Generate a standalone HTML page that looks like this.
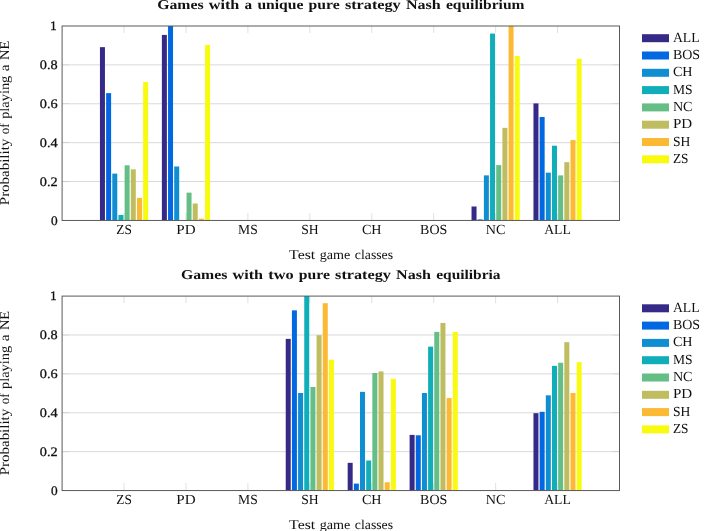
<!DOCTYPE html>
<html><head><meta charset="utf-8"><style>
html,body{margin:0;padding:0;background:#fff;}
body{width:709px;height:531px;overflow:hidden;}
svg{display:block;will-change:transform;text-rendering:geometricPrecision;font-family:"Liberation Serif", serif;fill:#111;}
</style></head><body>
<svg width="709" height="531" viewBox="0 0 709 531">
<text x="157.20" y="8.70" font-size="13.5" textLength="46.40" lengthAdjust="spacingAndGlyphs" font-weight="bold">Games</text><text x="208.83" y="8.70" font-size="13.5" textLength="30.50" lengthAdjust="spacingAndGlyphs" font-weight="bold">with</text><text x="244.56" y="8.70" font-size="13.5" textLength="7.62" lengthAdjust="spacingAndGlyphs" font-weight="bold">a</text><text x="257.41" y="8.70" font-size="13.5" textLength="45.96" lengthAdjust="spacingAndGlyphs" font-weight="bold">unique</text><text x="308.60" y="8.70" font-size="13.5" textLength="31.07" lengthAdjust="spacingAndGlyphs" font-weight="bold">pure</text><text x="344.90" y="8.70" font-size="13.5" textLength="55.78" lengthAdjust="spacingAndGlyphs" font-weight="bold">strategy</text><text x="405.91" y="8.70" font-size="13.5" textLength="34.80" lengthAdjust="spacingAndGlyphs" font-weight="bold">Nash</text><text x="445.94" y="8.70" font-size="13.5" textLength="78.56" lengthAdjust="spacingAndGlyphs" font-weight="bold">equilibrium</text>
<line x1="62.10" y1="181.56" x2="619.50" y2="181.56" stroke="#d9d9d9" stroke-width="1"/>
<line x1="62.10" y1="181.56" x2="69.10" y2="181.56" stroke="#000" stroke-opacity="0.07" stroke-width="1"/>
<line x1="612.50" y1="181.56" x2="619.50" y2="181.56" stroke="#000" stroke-opacity="0.07" stroke-width="1"/>
<line x1="62.10" y1="142.67" x2="619.50" y2="142.67" stroke="#d9d9d9" stroke-width="1"/>
<line x1="62.10" y1="142.67" x2="69.10" y2="142.67" stroke="#000" stroke-opacity="0.07" stroke-width="1"/>
<line x1="612.50" y1="142.67" x2="619.50" y2="142.67" stroke="#000" stroke-opacity="0.07" stroke-width="1"/>
<line x1="62.10" y1="103.78" x2="619.50" y2="103.78" stroke="#d9d9d9" stroke-width="1"/>
<line x1="62.10" y1="103.78" x2="69.10" y2="103.78" stroke="#000" stroke-opacity="0.07" stroke-width="1"/>
<line x1="612.50" y1="103.78" x2="619.50" y2="103.78" stroke="#000" stroke-opacity="0.07" stroke-width="1"/>
<line x1="62.10" y1="64.89" x2="619.50" y2="64.89" stroke="#d9d9d9" stroke-width="1"/>
<line x1="62.10" y1="64.89" x2="69.10" y2="64.89" stroke="#000" stroke-opacity="0.07" stroke-width="1"/>
<line x1="612.50" y1="64.89" x2="619.50" y2="64.89" stroke="#000" stroke-opacity="0.07" stroke-width="1"/>
<line x1="124.03" y1="220.45" x2="124.03" y2="212.95" stroke="#e0e0e0" stroke-width="1"/>
<line x1="124.03" y1="26.00" x2="124.03" y2="33.00" stroke="#e0e0e0" stroke-width="1"/>
<line x1="185.97" y1="220.45" x2="185.97" y2="212.95" stroke="#e0e0e0" stroke-width="1"/>
<line x1="185.97" y1="26.00" x2="185.97" y2="33.00" stroke="#e0e0e0" stroke-width="1"/>
<line x1="247.90" y1="220.45" x2="247.90" y2="212.95" stroke="#e0e0e0" stroke-width="1"/>
<line x1="247.90" y1="26.00" x2="247.90" y2="33.00" stroke="#e0e0e0" stroke-width="1"/>
<line x1="309.83" y1="220.45" x2="309.83" y2="212.95" stroke="#e0e0e0" stroke-width="1"/>
<line x1="309.83" y1="26.00" x2="309.83" y2="33.00" stroke="#e0e0e0" stroke-width="1"/>
<line x1="371.77" y1="220.45" x2="371.77" y2="212.95" stroke="#e0e0e0" stroke-width="1"/>
<line x1="371.77" y1="26.00" x2="371.77" y2="33.00" stroke="#e0e0e0" stroke-width="1"/>
<line x1="433.70" y1="220.45" x2="433.70" y2="212.95" stroke="#e0e0e0" stroke-width="1"/>
<line x1="433.70" y1="26.00" x2="433.70" y2="33.00" stroke="#e0e0e0" stroke-width="1"/>
<line x1="495.63" y1="220.45" x2="495.63" y2="212.95" stroke="#e0e0e0" stroke-width="1"/>
<line x1="495.63" y1="26.00" x2="495.63" y2="33.00" stroke="#e0e0e0" stroke-width="1"/>
<line x1="557.57" y1="220.45" x2="557.57" y2="212.95" stroke="#e0e0e0" stroke-width="1"/>
<line x1="557.57" y1="26.00" x2="557.57" y2="33.00" stroke="#e0e0e0" stroke-width="1"/>
<rect x="99.94" y="47.15" width="5.0" height="173.30" fill="#352a87"/>
<rect x="106.11" y="93.12" width="5.0" height="127.33" fill="#0268e1"/>
<rect x="112.28" y="173.63" width="5.0" height="46.82" fill="#108ed2"/>
<rect x="118.45" y="214.96" width="5.0" height="5.49" fill="#0faeb9"/>
<rect x="124.62" y="165.29" width="5.0" height="55.16" fill="#65be86"/>
<rect x="130.79" y="169.37" width="5.0" height="51.08" fill="#c0bc60"/>
<rect x="136.96" y="197.88" width="5.0" height="22.57" fill="#fbb934"/>
<rect x="143.13" y="82.07" width="5.0" height="138.38" fill="#f9fb0e"/>
<rect x="161.87" y="34.92" width="5.0" height="185.53" fill="#352a87"/>
<rect x="168.04" y="26.00" width="5.0" height="194.45" fill="#0268e1"/>
<rect x="174.21" y="166.46" width="5.0" height="53.99" fill="#108ed2"/>
<rect x="186.55" y="192.65" width="5.0" height="27.80" fill="#65be86"/>
<rect x="192.72" y="203.51" width="5.0" height="16.94" fill="#c0bc60"/>
<rect x="198.89" y="218.64" width="5.0" height="1.81" fill="#fbb934"/>
<rect x="205.06" y="45.01" width="5.0" height="175.44" fill="#f9fb0e"/>
<rect x="471.54" y="206.50" width="5.0" height="13.95" fill="#352a87"/>
<rect x="477.71" y="219.42" width="5.0" height="1.03" fill="#0268e1"/>
<rect x="483.88" y="175.38" width="5.0" height="45.07" fill="#108ed2"/>
<rect x="490.05" y="33.57" width="5.0" height="186.88" fill="#0faeb9"/>
<rect x="496.22" y="165.10" width="5.0" height="55.35" fill="#65be86"/>
<rect x="502.39" y="127.85" width="5.0" height="92.60" fill="#c0bc60"/>
<rect x="508.56" y="26.00" width="5.0" height="194.45" fill="#fbb934"/>
<rect x="514.73" y="56.07" width="5.0" height="164.38" fill="#f9fb0e"/>
<rect x="533.47" y="103.41" width="5.0" height="117.04" fill="#352a87"/>
<rect x="539.64" y="116.99" width="5.0" height="103.46" fill="#0268e1"/>
<rect x="545.81" y="172.66" width="5.0" height="47.79" fill="#108ed2"/>
<rect x="551.98" y="145.70" width="5.0" height="74.75" fill="#0faeb9"/>
<rect x="558.15" y="175.38" width="5.0" height="45.07" fill="#65be86"/>
<rect x="564.32" y="162.19" width="5.0" height="58.26" fill="#c0bc60"/>
<rect x="570.49" y="140.07" width="5.0" height="80.38" fill="#fbb934"/>
<rect x="576.66" y="58.79" width="5.0" height="161.66" fill="#f9fb0e"/>
<rect x="62.10" y="26.00" width="557.40" height="194.45" fill="none" stroke="#5a5a5a" stroke-width="1"/>
<text x="50.93" y="224.75" font-size="13" textLength="6.67" lengthAdjust="spacingAndGlyphs" stroke="#111" stroke-width="0.3">0</text>
<text x="39.76" y="185.86" font-size="13" textLength="17.84" lengthAdjust="spacingAndGlyphs" stroke="#111" stroke-width="0.3">0.2</text>
<text x="39.76" y="146.97" font-size="13" textLength="17.84" lengthAdjust="spacingAndGlyphs" stroke="#111" stroke-width="0.3">0.4</text>
<text x="39.76" y="108.08" font-size="13" textLength="17.84" lengthAdjust="spacingAndGlyphs" stroke="#111" stroke-width="0.3">0.6</text>
<text x="39.76" y="69.19" font-size="13" textLength="17.84" lengthAdjust="spacingAndGlyphs" stroke="#111" stroke-width="0.3">0.8</text>
<text x="50.03" y="30.30" font-size="13" textLength="6.67" lengthAdjust="spacingAndGlyphs" stroke="#111" stroke-width="0.3">1</text>
<text x="116.26" y="233.90" font-size="13.9" textLength="15.56" lengthAdjust="spacingAndGlyphs">ZS</text>
<text x="176.34" y="233.90" font-size="13.9" textLength="19.26" lengthAdjust="spacingAndGlyphs">PD</text>
<text x="238.08" y="233.90" font-size="13.9" textLength="19.63" lengthAdjust="spacingAndGlyphs">MS</text>
<text x="301.13" y="233.90" font-size="13.9" textLength="17.41" lengthAdjust="spacingAndGlyphs">SH</text>
<text x="361.95" y="233.90" font-size="13.9" textLength="19.63" lengthAdjust="spacingAndGlyphs">CH</text>
<text x="420.09" y="233.90" font-size="13.9" textLength="27.22" lengthAdjust="spacingAndGlyphs">BOS</text>
<text x="485.82" y="233.90" font-size="13.9" textLength="19.63" lengthAdjust="spacingAndGlyphs">NC</text>
<text x="544.23" y="233.90" font-size="13.9" textLength="26.67" lengthAdjust="spacingAndGlyphs">ALL</text>
<text x="289.10" y="258.60" font-size="13.5" textLength="26.19" lengthAdjust="spacingAndGlyphs">Test</text><text x="319.76" y="258.60" font-size="13.5" textLength="30.59" lengthAdjust="spacingAndGlyphs">game</text><text x="354.83" y="258.60" font-size="13.5" textLength="38.27" lengthAdjust="spacingAndGlyphs">classes</text>
<g transform="translate(8.9 122.95) rotate(-90)"><text x="-82.25" y="0.00" font-size="13.5" textLength="66.54" lengthAdjust="spacingAndGlyphs">Probability</text><text x="-11.22" y="0.00" font-size="13.5" textLength="10.86" lengthAdjust="spacingAndGlyphs">of</text><text x="4.14" y="0.00" font-size="13.5" textLength="43.08" lengthAdjust="spacingAndGlyphs">playing</text><text x="51.72" y="0.00" font-size="13.5" textLength="6.74" lengthAdjust="spacingAndGlyphs">a</text><text x="62.96" y="0.00" font-size="13.5" textLength="19.29" lengthAdjust="spacingAndGlyphs">NE</text></g>
<rect x="642" y="34.20" width="27" height="8" fill="#352a87"/>
<text x="672.90" y="41.70" font-size="13.9" textLength="26.67" lengthAdjust="spacingAndGlyphs">ALL</text>
<rect x="642" y="51.50" width="27" height="8" fill="#0268e1"/>
<text x="672.90" y="59.00" font-size="13.9" textLength="27.22" lengthAdjust="spacingAndGlyphs">BOS</text>
<rect x="642" y="68.80" width="27" height="8" fill="#108ed2"/>
<text x="672.90" y="76.30" font-size="13.9" textLength="19.63" lengthAdjust="spacingAndGlyphs">CH</text>
<rect x="642" y="86.10" width="27" height="8" fill="#0faeb9"/>
<text x="672.90" y="93.60" font-size="13.9" textLength="19.63" lengthAdjust="spacingAndGlyphs">MS</text>
<rect x="642" y="103.40" width="27" height="8" fill="#65be86"/>
<text x="672.90" y="110.90" font-size="13.9" textLength="19.63" lengthAdjust="spacingAndGlyphs">NC</text>
<rect x="642" y="120.70" width="27" height="8" fill="#c0bc60"/>
<text x="672.90" y="128.20" font-size="13.9" textLength="19.26" lengthAdjust="spacingAndGlyphs">PD</text>
<rect x="642" y="138.00" width="27" height="8" fill="#fbb934"/>
<text x="672.90" y="145.50" font-size="13.9" textLength="17.41" lengthAdjust="spacingAndGlyphs">SH</text>
<rect x="642" y="155.30" width="27" height="8" fill="#f9fb0e"/>
<text x="672.90" y="162.80" font-size="13.9" textLength="15.56" lengthAdjust="spacingAndGlyphs">ZS</text>
<text x="180.90" y="278.80" font-size="13.5" textLength="46.42" lengthAdjust="spacingAndGlyphs" font-weight="bold">Games</text><text x="232.55" y="278.80" font-size="13.5" textLength="30.51" lengthAdjust="spacingAndGlyphs" font-weight="bold">with</text><text x="268.28" y="278.80" font-size="13.5" textLength="25.28" lengthAdjust="spacingAndGlyphs" font-weight="bold">two</text><text x="298.79" y="278.80" font-size="13.5" textLength="31.09" lengthAdjust="spacingAndGlyphs" font-weight="bold">pure</text><text x="335.11" y="278.80" font-size="13.5" textLength="55.80" lengthAdjust="spacingAndGlyphs" font-weight="bold">strategy</text><text x="396.13" y="278.80" font-size="13.5" textLength="34.81" lengthAdjust="spacingAndGlyphs" font-weight="bold">Nash</text><text x="436.18" y="278.80" font-size="13.5" textLength="64.42" lengthAdjust="spacingAndGlyphs" font-weight="bold">equilibria</text>
<line x1="62.10" y1="451.66" x2="619.50" y2="451.66" stroke="#d9d9d9" stroke-width="1"/>
<line x1="62.10" y1="451.66" x2="69.10" y2="451.66" stroke="#000" stroke-opacity="0.07" stroke-width="1"/>
<line x1="612.50" y1="451.66" x2="619.50" y2="451.66" stroke="#000" stroke-opacity="0.07" stroke-width="1"/>
<line x1="62.10" y1="412.77" x2="619.50" y2="412.77" stroke="#d9d9d9" stroke-width="1"/>
<line x1="62.10" y1="412.77" x2="69.10" y2="412.77" stroke="#000" stroke-opacity="0.07" stroke-width="1"/>
<line x1="612.50" y1="412.77" x2="619.50" y2="412.77" stroke="#000" stroke-opacity="0.07" stroke-width="1"/>
<line x1="62.10" y1="373.88" x2="619.50" y2="373.88" stroke="#d9d9d9" stroke-width="1"/>
<line x1="62.10" y1="373.88" x2="69.10" y2="373.88" stroke="#000" stroke-opacity="0.07" stroke-width="1"/>
<line x1="612.50" y1="373.88" x2="619.50" y2="373.88" stroke="#000" stroke-opacity="0.07" stroke-width="1"/>
<line x1="62.10" y1="334.99" x2="619.50" y2="334.99" stroke="#d9d9d9" stroke-width="1"/>
<line x1="62.10" y1="334.99" x2="69.10" y2="334.99" stroke="#000" stroke-opacity="0.07" stroke-width="1"/>
<line x1="612.50" y1="334.99" x2="619.50" y2="334.99" stroke="#000" stroke-opacity="0.07" stroke-width="1"/>
<line x1="124.03" y1="490.55" x2="124.03" y2="483.05" stroke="#e0e0e0" stroke-width="1"/>
<line x1="124.03" y1="296.10" x2="124.03" y2="303.10" stroke="#e0e0e0" stroke-width="1"/>
<line x1="185.97" y1="490.55" x2="185.97" y2="483.05" stroke="#e0e0e0" stroke-width="1"/>
<line x1="185.97" y1="296.10" x2="185.97" y2="303.10" stroke="#e0e0e0" stroke-width="1"/>
<line x1="247.90" y1="490.55" x2="247.90" y2="483.05" stroke="#e0e0e0" stroke-width="1"/>
<line x1="247.90" y1="296.10" x2="247.90" y2="303.10" stroke="#e0e0e0" stroke-width="1"/>
<line x1="309.83" y1="490.55" x2="309.83" y2="483.05" stroke="#e0e0e0" stroke-width="1"/>
<line x1="309.83" y1="296.10" x2="309.83" y2="303.10" stroke="#e0e0e0" stroke-width="1"/>
<line x1="371.77" y1="490.55" x2="371.77" y2="483.05" stroke="#e0e0e0" stroke-width="1"/>
<line x1="371.77" y1="296.10" x2="371.77" y2="303.10" stroke="#e0e0e0" stroke-width="1"/>
<line x1="433.70" y1="490.55" x2="433.70" y2="483.05" stroke="#e0e0e0" stroke-width="1"/>
<line x1="433.70" y1="296.10" x2="433.70" y2="303.10" stroke="#e0e0e0" stroke-width="1"/>
<line x1="495.63" y1="490.55" x2="495.63" y2="483.05" stroke="#e0e0e0" stroke-width="1"/>
<line x1="495.63" y1="296.10" x2="495.63" y2="303.10" stroke="#e0e0e0" stroke-width="1"/>
<line x1="557.57" y1="490.55" x2="557.57" y2="483.05" stroke="#e0e0e0" stroke-width="1"/>
<line x1="557.57" y1="296.10" x2="557.57" y2="303.10" stroke="#e0e0e0" stroke-width="1"/>
<rect x="285.74" y="338.87" width="5.0" height="151.68" fill="#352a87"/>
<rect x="291.91" y="310.36" width="5.0" height="180.19" fill="#0268e1"/>
<rect x="298.08" y="393.00" width="5.0" height="97.55" fill="#108ed2"/>
<rect x="304.25" y="296.00" width="5.0" height="194.55" fill="#0faeb9"/>
<rect x="310.42" y="386.99" width="5.0" height="103.56" fill="#65be86"/>
<rect x="316.59" y="335.19" width="5.0" height="155.36" fill="#c0bc60"/>
<rect x="322.76" y="303.18" width="5.0" height="187.37" fill="#fbb934"/>
<rect x="328.93" y="359.63" width="5.0" height="130.92" fill="#f9fb0e"/>
<rect x="347.67" y="462.84" width="5.0" height="27.71" fill="#352a87"/>
<rect x="353.84" y="483.60" width="5.0" height="6.95" fill="#0268e1"/>
<rect x="360.01" y="391.84" width="5.0" height="98.71" fill="#108ed2"/>
<rect x="366.18" y="460.51" width="5.0" height="30.04" fill="#0faeb9"/>
<rect x="372.35" y="373.02" width="5.0" height="117.53" fill="#65be86"/>
<rect x="378.52" y="371.47" width="5.0" height="119.08" fill="#c0bc60"/>
<rect x="384.69" y="482.24" width="5.0" height="8.31" fill="#fbb934"/>
<rect x="390.86" y="378.84" width="5.0" height="111.71" fill="#f9fb0e"/>
<rect x="409.61" y="434.90" width="5.0" height="55.65" fill="#352a87"/>
<rect x="415.77" y="435.29" width="5.0" height="55.26" fill="#0268e1"/>
<rect x="421.94" y="393.00" width="5.0" height="97.55" fill="#108ed2"/>
<rect x="428.12" y="346.63" width="5.0" height="143.92" fill="#0faeb9"/>
<rect x="434.28" y="331.89" width="5.0" height="158.66" fill="#65be86"/>
<rect x="440.45" y="322.97" width="5.0" height="167.58" fill="#c0bc60"/>
<rect x="446.62" y="398.04" width="5.0" height="92.51" fill="#fbb934"/>
<rect x="452.79" y="331.89" width="5.0" height="158.66" fill="#f9fb0e"/>
<rect x="533.47" y="413.18" width="5.0" height="77.37" fill="#352a87"/>
<rect x="539.64" y="411.82" width="5.0" height="78.73" fill="#0268e1"/>
<rect x="545.81" y="395.33" width="5.0" height="95.22" fill="#108ed2"/>
<rect x="551.98" y="365.84" width="5.0" height="124.71" fill="#0faeb9"/>
<rect x="558.15" y="362.74" width="5.0" height="127.81" fill="#65be86"/>
<rect x="564.32" y="342.17" width="5.0" height="148.38" fill="#c0bc60"/>
<rect x="570.49" y="393.00" width="5.0" height="97.55" fill="#fbb934"/>
<rect x="576.66" y="362.15" width="5.0" height="128.40" fill="#f9fb0e"/>
<rect x="62.10" y="296.10" width="557.40" height="194.45" fill="none" stroke="#5a5a5a" stroke-width="1"/>
<text x="50.93" y="494.85" font-size="13" textLength="6.67" lengthAdjust="spacingAndGlyphs" stroke="#111" stroke-width="0.3">0</text>
<text x="39.76" y="455.96" font-size="13" textLength="17.84" lengthAdjust="spacingAndGlyphs" stroke="#111" stroke-width="0.3">0.2</text>
<text x="39.76" y="417.07" font-size="13" textLength="17.84" lengthAdjust="spacingAndGlyphs" stroke="#111" stroke-width="0.3">0.4</text>
<text x="39.76" y="378.18" font-size="13" textLength="17.84" lengthAdjust="spacingAndGlyphs" stroke="#111" stroke-width="0.3">0.6</text>
<text x="39.76" y="339.29" font-size="13" textLength="17.84" lengthAdjust="spacingAndGlyphs" stroke="#111" stroke-width="0.3">0.8</text>
<text x="50.03" y="300.40" font-size="13" textLength="6.67" lengthAdjust="spacingAndGlyphs" stroke="#111" stroke-width="0.3">1</text>
<text x="116.26" y="504.00" font-size="13.9" textLength="15.56" lengthAdjust="spacingAndGlyphs">ZS</text>
<text x="176.34" y="504.00" font-size="13.9" textLength="19.26" lengthAdjust="spacingAndGlyphs">PD</text>
<text x="238.08" y="504.00" font-size="13.9" textLength="19.63" lengthAdjust="spacingAndGlyphs">MS</text>
<text x="301.13" y="504.00" font-size="13.9" textLength="17.41" lengthAdjust="spacingAndGlyphs">SH</text>
<text x="361.95" y="504.00" font-size="13.9" textLength="19.63" lengthAdjust="spacingAndGlyphs">CH</text>
<text x="420.09" y="504.00" font-size="13.9" textLength="27.22" lengthAdjust="spacingAndGlyphs">BOS</text>
<text x="485.82" y="504.00" font-size="13.9" textLength="19.63" lengthAdjust="spacingAndGlyphs">NC</text>
<text x="544.23" y="504.00" font-size="13.9" textLength="26.67" lengthAdjust="spacingAndGlyphs">ALL</text>
<text x="289.10" y="528.70" font-size="13.5" textLength="26.19" lengthAdjust="spacingAndGlyphs">Test</text><text x="319.76" y="528.70" font-size="13.5" textLength="30.59" lengthAdjust="spacingAndGlyphs">game</text><text x="354.83" y="528.70" font-size="13.5" textLength="38.27" lengthAdjust="spacingAndGlyphs">classes</text>
<g transform="translate(8.9 393.05) rotate(-90)"><text x="-82.25" y="0.00" font-size="13.5" textLength="66.54" lengthAdjust="spacingAndGlyphs">Probability</text><text x="-11.22" y="0.00" font-size="13.5" textLength="10.86" lengthAdjust="spacingAndGlyphs">of</text><text x="4.14" y="0.00" font-size="13.5" textLength="43.08" lengthAdjust="spacingAndGlyphs">playing</text><text x="51.72" y="0.00" font-size="13.5" textLength="6.74" lengthAdjust="spacingAndGlyphs">a</text><text x="62.96" y="0.00" font-size="13.5" textLength="19.29" lengthAdjust="spacingAndGlyphs">NE</text></g>
<rect x="642" y="304.30" width="27" height="8" fill="#352a87"/>
<text x="672.90" y="311.80" font-size="13.9" textLength="26.67" lengthAdjust="spacingAndGlyphs">ALL</text>
<rect x="642" y="321.60" width="27" height="8" fill="#0268e1"/>
<text x="672.90" y="329.10" font-size="13.9" textLength="27.22" lengthAdjust="spacingAndGlyphs">BOS</text>
<rect x="642" y="338.90" width="27" height="8" fill="#108ed2"/>
<text x="672.90" y="346.40" font-size="13.9" textLength="19.63" lengthAdjust="spacingAndGlyphs">CH</text>
<rect x="642" y="356.20" width="27" height="8" fill="#0faeb9"/>
<text x="672.90" y="363.70" font-size="13.9" textLength="19.63" lengthAdjust="spacingAndGlyphs">MS</text>
<rect x="642" y="373.50" width="27" height="8" fill="#65be86"/>
<text x="672.90" y="381.00" font-size="13.9" textLength="19.63" lengthAdjust="spacingAndGlyphs">NC</text>
<rect x="642" y="390.80" width="27" height="8" fill="#c0bc60"/>
<text x="672.90" y="398.30" font-size="13.9" textLength="19.26" lengthAdjust="spacingAndGlyphs">PD</text>
<rect x="642" y="408.10" width="27" height="8" fill="#fbb934"/>
<text x="672.90" y="415.60" font-size="13.9" textLength="17.41" lengthAdjust="spacingAndGlyphs">SH</text>
<rect x="642" y="425.40" width="27" height="8" fill="#f9fb0e"/>
<text x="672.90" y="432.90" font-size="13.9" textLength="15.56" lengthAdjust="spacingAndGlyphs">ZS</text>
</svg>
</body></html>
